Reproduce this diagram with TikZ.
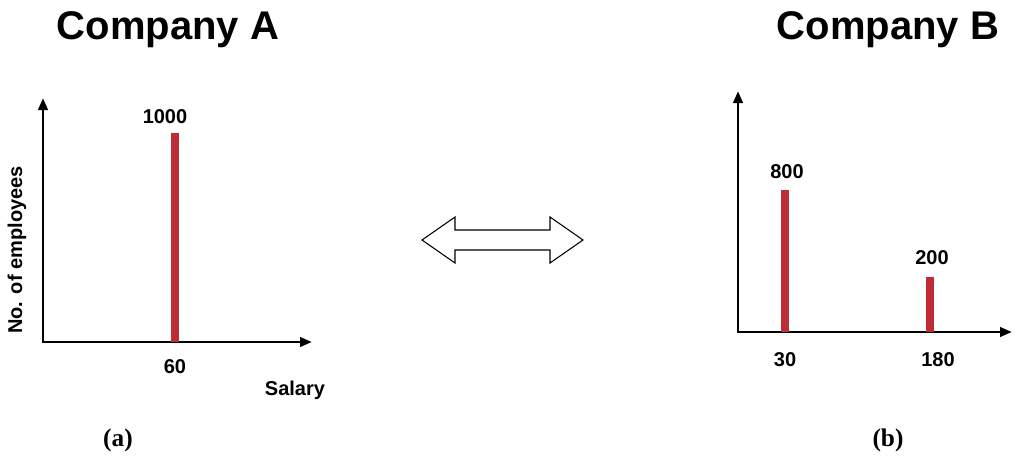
\documentclass[tikz,border=0pt]{standalone}
\usepackage{fontspec}
\setmainfont{Liberation Sans}
\newfontfamily\serifb{Liberation Serif}
\usetikzlibrary{arrows.meta}
\tikzset{ax/.style={line width=2.2pt,-{Triangle[length=9pt,width=7pt]}},
bar/.style={line width=6pt,draw={rgb,255:red,190;green,45;blue,55}},
lbl/.style={font=\bfseries\fontsize{15}{15}\selectfont,inner sep=0},
ttl/.style={font=\bfseries\fontsize{30}{30}\selectfont,inner sep=0},
captxt/.style={font=\serifb\bfseries\fontsize{19}{19}\selectfont,inner sep=0}}
\begin{document}
\begin{tikzpicture}[x=0.75pt,y=-0.75pt]
\useasboundingbox (0,0) rectangle (1024,461);
\node[ttl] (ta) at (168,30) {Company A};
\node[ttl] (tb) at (888,30) {Company B};
% A
\coordinate (ya) at (43,98);
\coordinate (xa) at (312,342);
\draw[ax] (43,343) -- (ya);
\draw[ax] (42,342) -- (xa);
\draw[bar] (175,342) -- (175,133);
\node[lbl] (l1000) at (165,117) {1000};
\node[lbl] (l60) at (175,367) {60};
\node[lbl] (sal) at (295,390) {Salary};
\node[lbl,rotate=90] (emp) at (17,250) {No. of employees};
\node[captxt] (ca) at (118,440) {(a)};
% B
\coordinate (yb) at (738,91);
\coordinate (xb) at (1012,332);
\draw[ax] (738,333) -- (yb);
\draw[ax] (737,332) -- (xb);
\draw[bar] (785,332) -- (785,190);
\draw[bar] (930,332) -- (930,277);
\node[lbl] (l800) at (787,172) {800};
\node[lbl] (l200) at (932,258) {200};
\node[lbl] (l30) at (785,360) {30};
\node[lbl] (l180) at (938,360) {180};
\node[captxt] (cb) at (888,440) {(b)};
% double arrow
\draw[line width=0.8pt,line join=miter] (422,240) -- (455,217) -- (455,230) -- (550,230) -- (550,217) -- (583,240) -- (550,263) -- (550,250) -- (455,250) -- (455,263) -- cycle;
\end{tikzpicture}
\end{document}
